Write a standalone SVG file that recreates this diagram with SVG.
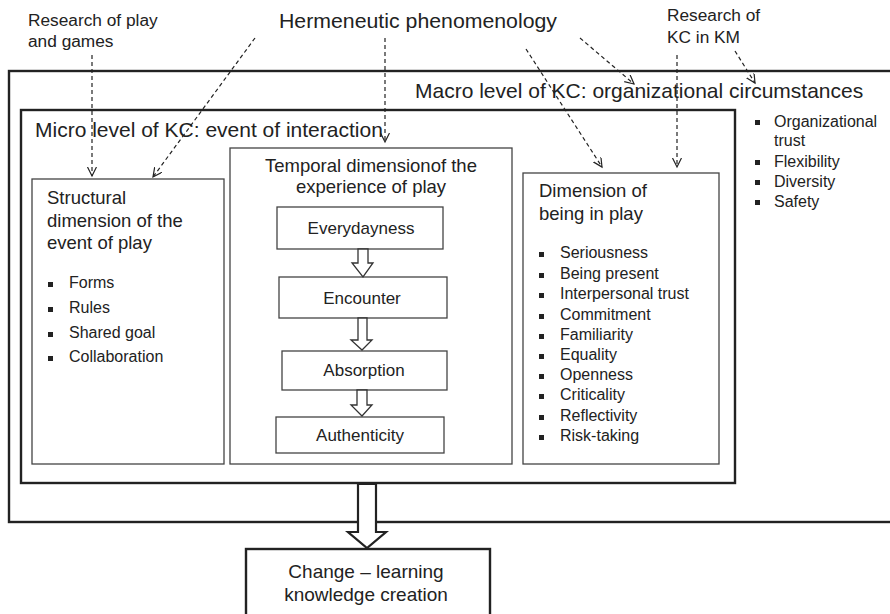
<svg xmlns="http://www.w3.org/2000/svg" width="890" height="614" viewBox="0 0 890 614">
<style>
text{font-family:"Liberation Sans",Arial,sans-serif;fill:#222}
.thick{fill:none;stroke:#222;stroke-width:2.4}
.thin{fill:none;stroke:#444;stroke-width:1.3}
.box{fill:#fff;stroke:#444;stroke-width:1.3}
.dash{fill:none;stroke:#222;stroke-width:1.2;stroke-dasharray:4 3}
.hollow{fill:#fff;stroke:#333;stroke-width:1.3}
.big{fill:#fff;stroke:#222;stroke-width:2.2}
.b{fill:#222}
.t21{font-size:21px}
.t18{font-size:18.5px}
.t17{font-size:17px}
.t16{font-size:16px}
.src{font-size:17.3px}
.c{text-anchor:middle}
</style>
<defs>
<marker id="v" markerUnits="userSpaceOnUse" markerWidth="12" markerHeight="12" refX="9" refY="4.5" orient="auto">
<path d="M0,0 L9,4.5 L0,9" fill="none" stroke="#222" stroke-width="1.2"/>
</marker>
</defs>

<g id="sources">
<text class="src" x="28" y="26">Research of play</text>
<text class="src" x="28" y="47">and games</text>
<text x="279" y="28" font-size="19.5" textLength="278" lengthAdjust="spacingAndGlyphs">Hermeneutic phenomenology</text>
<text class="src" x="667" y="21">Research of</text>
<text class="src" x="667" y="43">KC in KM</text>
</g>

<g id="macro">
<rect class="thick" x="9" y="71" width="900" height="451"/>
<text class="t21" x="415" y="98">Macro level of KC: organizational circumstances</text>
<rect class="b" x="755" y="120" width="5" height="5"/>
<text class="t16" x="774" y="127">Organizational</text>
<text class="t16" x="774" y="146">trust</text>
<rect class="b" x="755" y="160" width="5" height="5"/>
<text class="t16" x="774" y="167">Flexibility</text>
<rect class="b" x="755" y="180" width="5" height="5"/>
<text class="t16" x="774" y="187">Diversity</text>
<rect class="b" x="755" y="200" width="5" height="5"/>
<text class="t16" x="774" y="207">Safety</text>
</g>

<g id="micro">
<rect class="thick" x="21" y="110" width="714" height="373"/>
<text class="t21" x="35" y="137">Micro level of KC: event of interaction</text>
</g>

<g id="structural">
<rect class="thin" x="32" y="179" width="192" height="285"/>
<text class="t18" x="47" y="204">Structural</text>
<text class="t18" x="47" y="227">dimension of the</text>
<text class="t18" x="47" y="249">event of play</text>
<rect class="b" x="48" y="282" width="5" height="5"/>
<text class="t16" x="69" y="288">Forms</text>
<rect class="b" x="48" y="307" width="5" height="5"/>
<text class="t16" x="69" y="313">Rules</text>
<rect class="b" x="48" y="332" width="5" height="5"/>
<text class="t16" x="69" y="338">Shared goal</text>
<rect class="b" x="48" y="356" width="5" height="5"/>
<text class="t16" x="69" y="362">Collaboration</text>
</g>

<g id="temporal">
<rect class="thin" x="230" y="148" width="282" height="316"/>
<text class="t18 c" x="371" y="172">Temporal dimensionof the</text>
<text class="t18 c" x="371" y="193">experience of play</text>
</g>

<g id="everydayness">
<rect class="box" x="277" y="207" width="166" height="42"/>
<text class="t17 c" x="361" y="234">Everydayness</text>
</g>
<g id="encounter">
<rect class="box" x="279" y="277" width="168" height="41"/>
<text class="t17 c" x="362" y="304">Encounter</text>
</g>
<g id="absorption">
<rect class="box" x="282" y="351" width="165" height="39"/>
<text class="t17 c" x="364" y="376">Absorption</text>
</g>
<g id="authenticity">
<rect class="box" x="276" y="417" width="168" height="36"/>
<text class="t17 c" x="360" y="441">Authenticity</text>
</g>

<g id="being">
<rect class="thin" x="523" y="173" width="196" height="291"/>
<text class="t18" x="539" y="197">Dimension of</text>
<text class="t18" x="539" y="220">being in play</text>
<rect class="b" x="539" y="252" width="5" height="5"/>
<text class="t16" x="560" y="258">Seriousness</text>
<rect class="b" x="539" y="273" width="5" height="5"/>
<text class="t16" x="560" y="279">Being present</text>
<rect class="b" x="539" y="293" width="5" height="5"/>
<text class="t16" x="560" y="299">Interpersonal trust</text>
<rect class="b" x="539" y="314" width="5" height="5"/>
<text class="t16" x="560" y="320">Commitment</text>
<rect class="b" x="539" y="334" width="5" height="5"/>
<text class="t16" x="560" y="340">Familiarity</text>
<rect class="b" x="539" y="354" width="5" height="5"/>
<text class="t16" x="560" y="360">Equality</text>
<rect class="b" x="539" y="374" width="5" height="5"/>
<text class="t16" x="560" y="380">Openness</text>
<rect class="b" x="539" y="394" width="5" height="5"/>
<text class="t16" x="560" y="400">Criticality</text>
<rect class="b" x="539" y="415" width="5" height="5"/>
<text class="t16" x="560" y="421">Reflectivity</text>
<rect class="b" x="539" y="435" width="5" height="5"/>
<text class="t16" x="560" y="441">Risk-taking</text>
</g>

<g id="change">
<rect class="thick" x="246" y="549" width="244" height="80"/>
<text class="c" x="366" y="578" font-size="19">Change – learning</text>
<text class="c" x="366" y="601" font-size="19">knowledge creation</text>
</g>

<g id="connectors">
<path class="dash" d="M92,55 L92,176" marker-end="url(#v)"/>
<path class="dash" d="M255,38 L153,177" marker-end="url(#v)"/>
<path class="dash" d="M385,38 L385,142" marker-end="url(#v)"/>
<path class="dash" d="M526,49 L602,167" marker-end="url(#v)"/>
<path class="dash" d="M580,38 L634,84" marker-end="url(#v)"/>
<path class="dash" d="M677,55 L677,167" marker-end="url(#v)"/>
<path class="dash" d="M735,51 L755,83" marker-end="url(#v)"/>
<path class="hollow" d="M358,249 L368,249 L368,263 L373,263 L363,277 L352,263 L358,263 Z"/>
<path class="hollow" d="M358,318 L367,318 L367,340 L372,340 L362,350 L351,340 L358,340 Z"/>
<path class="hollow" d="M357,390 L367,390 L367,405 L372,405 L362,416 L351,405 L357,405 Z"/>
<path class="big" d="M358,484 L376,484 L376,532 L386,532 L367,548 L348,532 L358,532 Z"/>
</g>
</svg>
